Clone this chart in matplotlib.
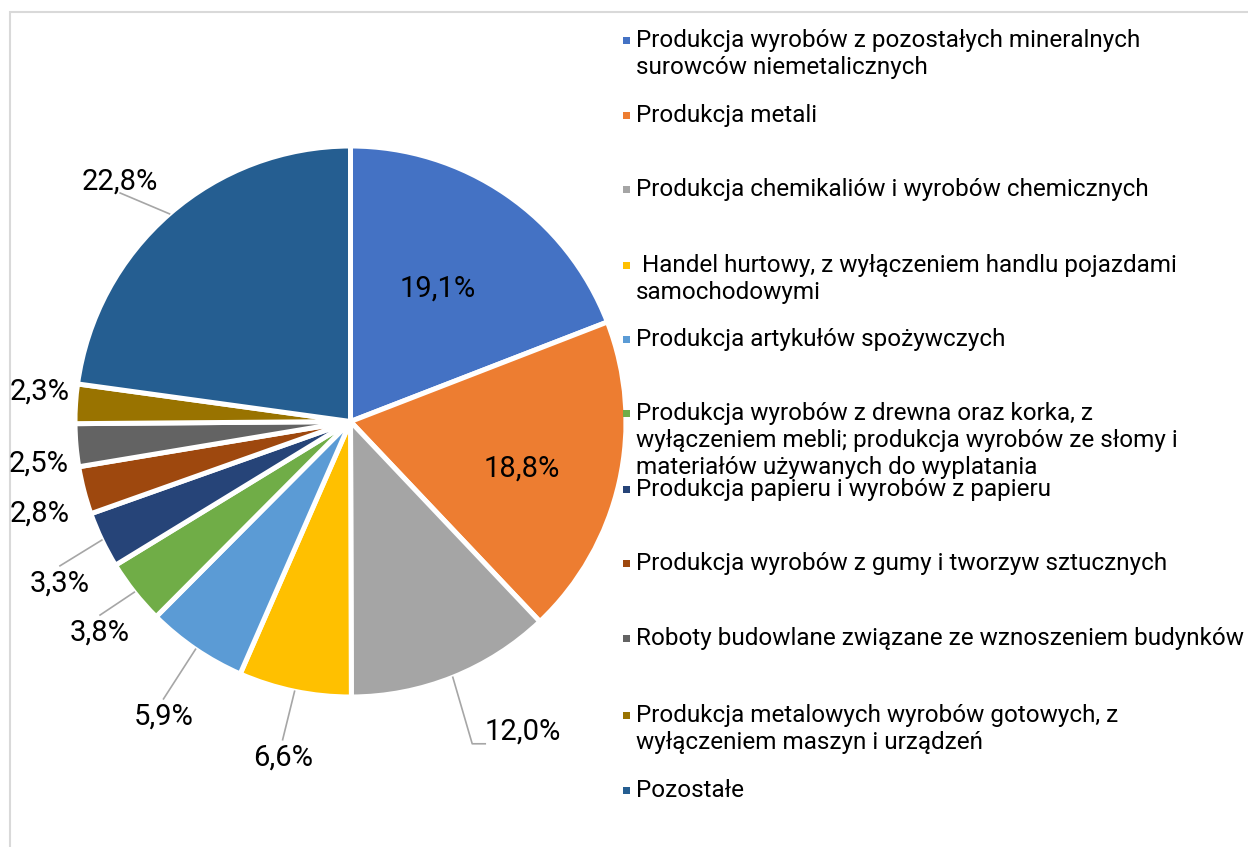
import numpy as np
import matplotlib.pyplot as plt
from matplotlib.patches import Rectangle

plt.rcParams['font.family'] = ['Roboto', 'DejaVu Sans']

# Dane: udział branż (%)
kategorie = [
    "Produkcja wyrobów z pozostałych mineralnych\nsurowców niemetalicznych",
    "Produkcja metali",
    "Produkcja chemikaliów i wyrobów chemicznych",
    " Handel hurtowy, z wyłączeniem handlu pojazdami\nsamochodowymi",
    "Produkcja artykułów spożywczych",
    "Produkcja wyrobów z drewna oraz korka, z\nwyłączeniem mebli; produkcja wyrobów ze słomy i\nmateriałów używanych do wyplatania",
    "Produkcja papieru i wyrobów z papieru",
    "Produkcja wyrobów z gumy i tworzyw sztucznych",
    "Roboty budowlane związane ze wznoszeniem budynków",
    "Produkcja metalowych wyrobów gotowych, z\nwyłączeniem maszyn i urządzeń",
    "Pozostałe",
]
udzialy = [19.1, 18.8, 12.0, 6.6, 5.9, 3.8, 3.3, 2.8, 2.5, 2.3, 22.8]
etykiety = ["19,1%", "18,8%", "12,0%", "6,6%", "5,9%", "3,8%", "3,3%",
            "2,8%", "2,5%", "2,3%", "22,8%"]

kolory = ['#4472C4', '#ED7D31', '#A5A5A5', '#FFC000', '#5B9BD5', '#70AD47',
          '#264478', '#9E480E', '#636363', '#997300', '#255E91']

# Układ (piksele, oś y w górę)
W, H = 1248, 847
cx, cy, R = 350.5, H - 421.5, 275.5
etyk_r = [0.577, 0.646, 1.289, 1.245, 1.269, 1.19, 1.208, 1.178, 1.142, 1.135, 1.206]
etyk_dkat = [1.2, -2.8, 7.3, 0.3, 1.9, 1.9, 3.7, 1.9, 2.75, -1.8, 2.8]
linie = [None, None, 'kolano', 'prosta', 'prosta', 'prosta', 'prosta',
         None, None, None, 'prosta']
legenda_y = [40, 115, 189, 265, 339, 413, 489, 563, 638, 715, 790]

fig = plt.figure(figsize=(W / 100, H / 100), dpi=100)
ax = fig.add_axes([0, 0, 1, 1])

wedges, _ = ax.pie(udzialy, colors=kolory, startangle=90, counterclock=False,
                   center=(cx, cy), radius=R,
                   wedgeprops=dict(edgecolor='white', linewidth=3.6))
ax.set_xlim(0, W)
ax.set_ylim(0, H)
ax.set_aspect('auto')
ax.axis('off')

# Ramka wykresu
ax.add_patch(Rectangle((10, -20), W + 40, H - 12 + 20, fill=False,
                       edgecolor='#D9D9D9', linewidth=1.5))

# Etykiety danych
for w, txt, rr, dk, kind in zip(wedges, etykiety, etyk_r, etyk_dkat, linie):
    mid = np.deg2rad((w.theta1 + w.theta2) / 2)
    kat = mid + np.deg2rad(dk)
    lx = cx + R * rr * np.cos(kat)
    ly = cy + R * rr * np.sin(kat)
    ax.text(lx, ly, txt, fontsize=21, ha='center', va='center', color='black')
    ex = cx + R * np.cos(mid)
    ey = cy + R * np.sin(mid)
    if kind == 'prosta':
        ay = ly + 18 if ly < cy else ly - 11
        ax.plot([ex, lx], [ey, ay], color='#A6A6A6', linewidth=1.2)
    elif kind == 'kolano':
        ax.plot([ex, lx - 51, lx - 38], [ey, ly - 12, ly - 12],
                color='#A6A6A6', linewidth=1.2)

# Legenda
for kat_txt, kol, y in zip(kategorie, kolory, legenda_y):
    yd = H - y
    ax.add_patch(Rectangle((623, yd - 3.5), 7, 7, facecolor=kol, edgecolor='none'))
    for i, linia in enumerate(kat_txt.split('\n')):
        ax.text(636, yd - i * 27, linia, fontsize=17.5, ha='left', va='center',
                color='black')

fig.savefig('out.png', dpi=100)
